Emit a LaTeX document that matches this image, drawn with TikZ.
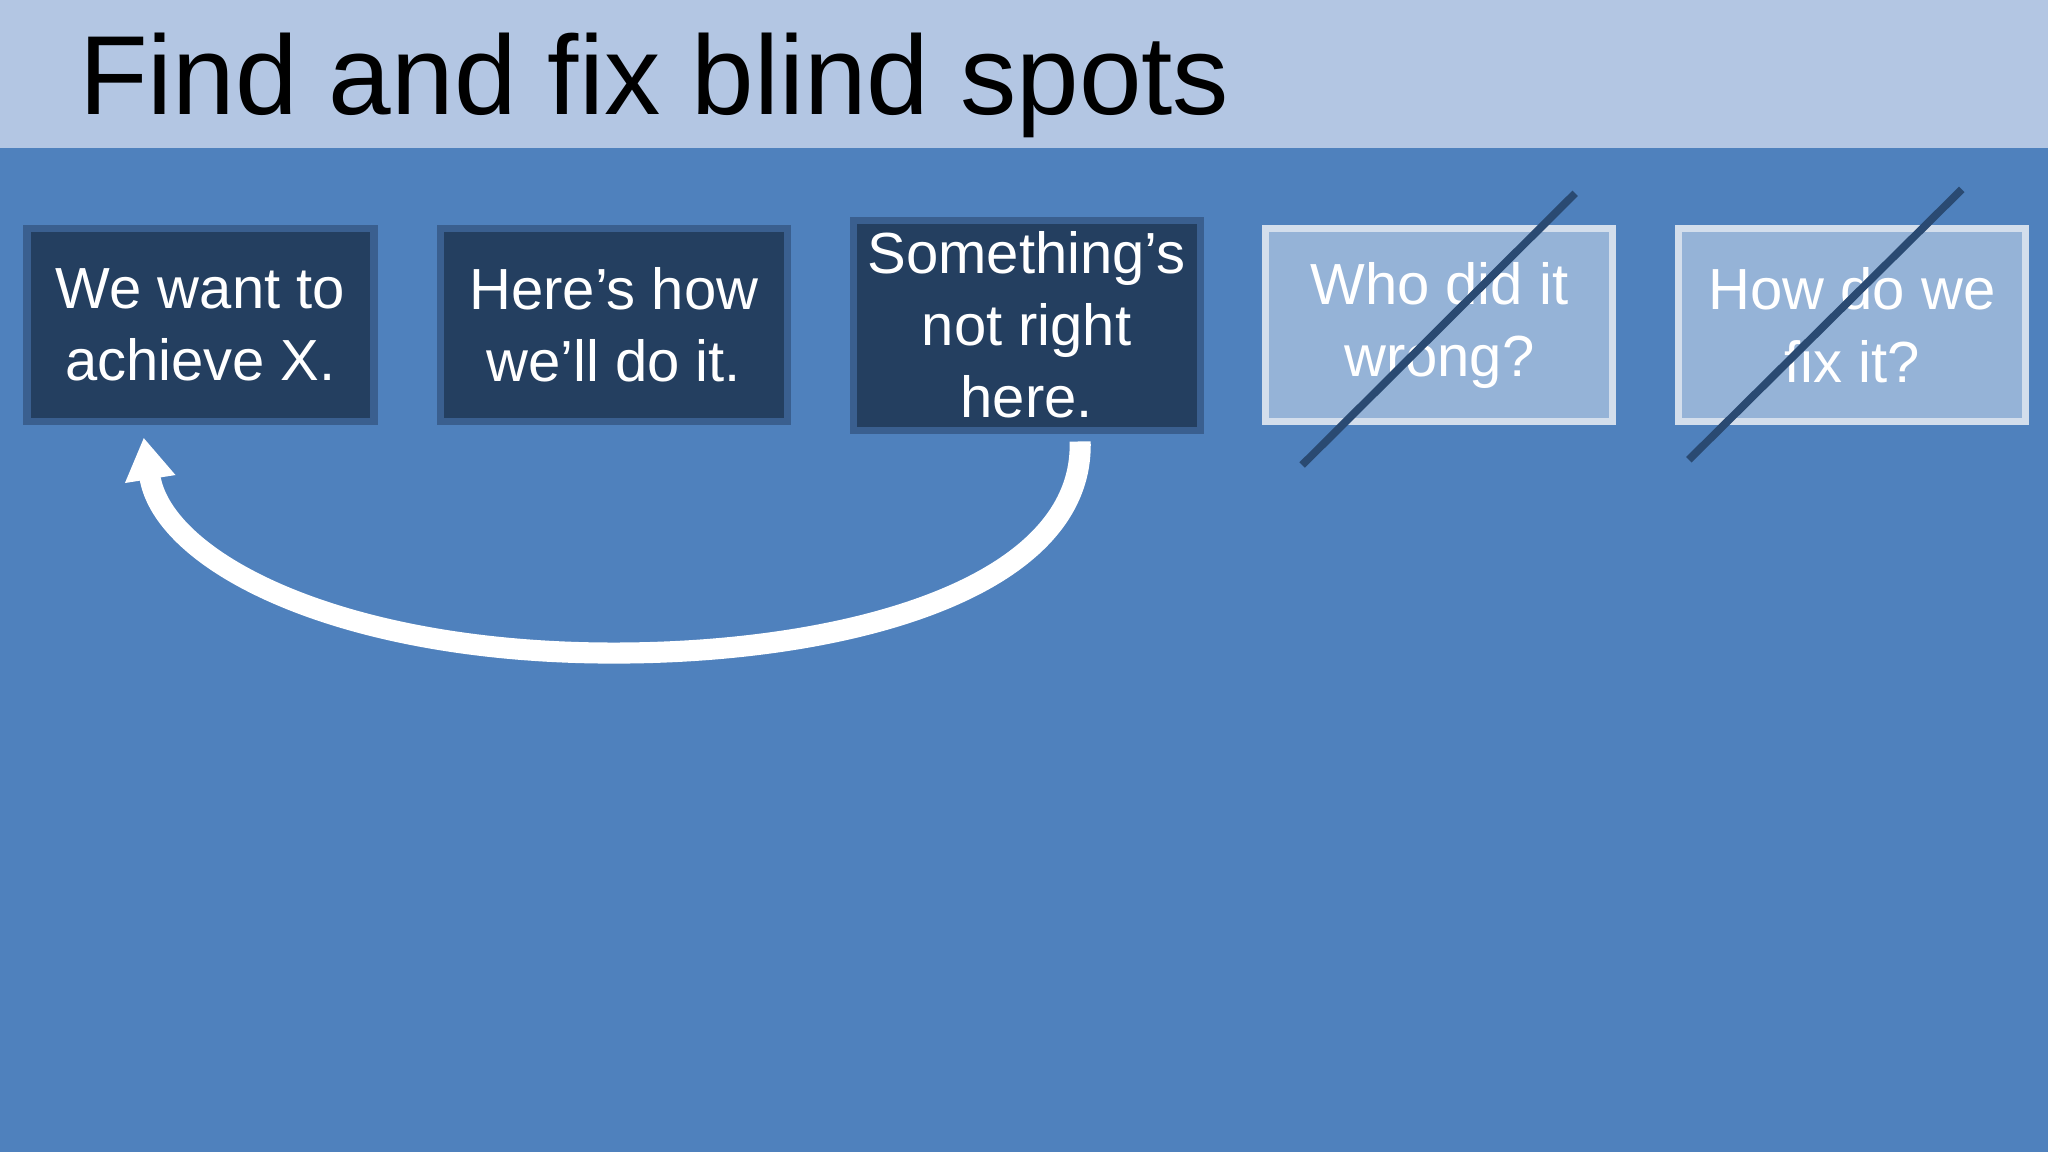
\documentclass[tikz,border=0pt]{standalone}
\usepackage{fontspec}
\setmainfont{Liberation Sans}
\usetikzlibrary{arrows.meta}
\definecolor{bg}{HTML}{4F81BD}
\definecolor{band}{HTML}{B3C6E3}
\definecolor{dark}{HTML}{243F60}
\definecolor{darkb}{HTML}{3A5F8F}
\definecolor{lightf}{HTML}{95B3D7}
\definecolor{lightb}{HTML}{D3DEEC}
\definecolor{strike}{HTML}{2A4A72}
\begin{document}
\begin{tikzpicture}[x=0.013061cm,y=-0.013061cm,
  darkbox/.style={draw=darkb,line width=2pt,fill=dark,text=white,minimum width=266\pgflinewidth,align=center,font=\fontsize{16.5}{20.5}\selectfont},
  box/.style={minimum width=3.47cm,minimum height=1.93cm,align=center,text=white,font=\fontsize{16.5}{20.5}\selectfont,line width=2pt},
  dbox/.style={box,draw=darkb,fill=dark},
  lbox/.style={box,draw=lightb,fill=lightf},
  cross/.style={draw=strike,line width=2.2pt}]
\useasboundingbox (0,0) rectangle (1568,882);
\fill[bg] (0,0) rectangle (1568,882);
\fill[band] (0,0) rectangle (1568,113);
\node[anchor=base west,font=\fontsize{32}{36}\selectfont,inner sep=0] (title) at (60,88) {Find and fix blind spots};
\node[dbox] (a) at (153.5,249) {We want to\\achieve X.};
\node[dbox] (b) at (470,249) {Here’s how\\we’ll do it.};
\node[dbox] (c) at (786,249) {Something’s\\not right\\here.};
\node[lbox] (d) at (1102,249) {Who did it\\wrong?};
\node[lbox] (e) at (1418,249) {How do we\\fix it?};
\coordinate (d1) at (997,356); \coordinate (d2) at (1206,148);
\coordinate (e1) at (1293,352); \coordinate (e2) at (1502,145);
\draw[cross] (d1) -- (d2);
\draw[cross] (e1) -- (e2);
\coordinate (s) at (827,338);
\coordinate (m) at (470,500);
\coordinate (t) at (110,335);
\draw[white,line width=6pt,-{Triangle[width=0.48cm,length=0.42cm]}]
  (s) .. controls (830,450) and (650,500) .. (m)
  .. controls (260,500) and (125,430) .. (t);
\end{tikzpicture}
\end{document}
